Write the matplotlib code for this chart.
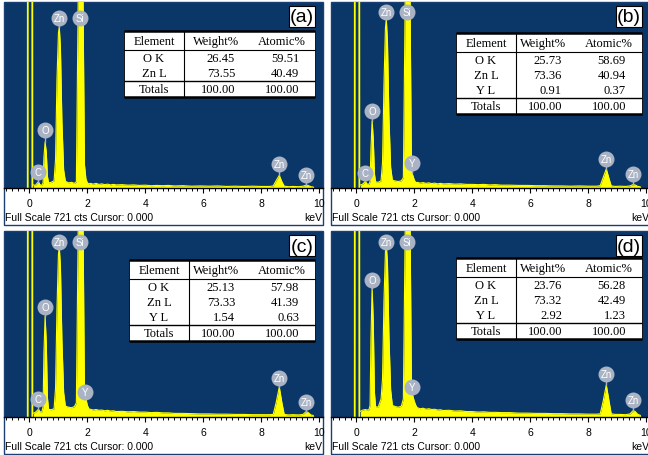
import matplotlib
matplotlib.use("Agg")
import matplotlib.pyplot as plt
from matplotlib.patches import Rectangle
from matplotlib.ticker import MultipleLocator

W, H = 648, 456
BLUE = "#0b3768"
YELLOW = "#ffff00"
BADGE = "#a9b3c4"
EDGE = "#1c3f73"
FULL_SCALE = 721

# energy grid (keV) shared by the four spectra
kev = [0.14, 0.2, 0.26, 0.31, 0.36, 0.43, 0.47, 0.5, 0.54, 0.58,
       0.62, 0.66, 0.75, 0.85, 0.9, 0.95, 1.0, 1.03, 1.07, 1.12,
       1.18, 1.24, 1.35, 1.45, 1.55, 1.62, 1.68, 1.74, 1.8, 1.86,
       1.9, 1.95, 2.0, 2.05, 2.1, 2.2, 2.3, 2.4, 2.5, 2.6,
       2.7, 2.8, 2.9, 3.0, 3.2, 3.4, 3.6, 3.8, 4.0, 4.2,
       4.4, 4.6, 4.8, 5.0, 5.3, 5.6, 5.9, 6.2, 6.5, 6.8,
       7.1, 7.4, 7.7, 8.0, 8.3, 8.42, 8.52, 8.63, 8.72, 8.8,
       8.95, 9.1, 9.3, 9.45, 9.55, 9.62, 9.72, 9.8, 9.82]

cts_a = [12, 10, 18, 24, 13, 10, 20, 120, 178, 140,
         45, 20, 22, 28, 110, 420, 600, 625, 540, 260,
         70, 26, 20, 22, 18, 24, 700, 1500, 1500, 600,
         90, 35, 20, 16, 18, 15, 18, 14, 16, 13,
         15, 12, 14, 12, 13, 11, 12, 10, 11, 9,
         10, 9, 10, 8, 9, 7, 8, 7, 8, 6,
         7, 6, 7, 6, 6, 8, 28, 49, 24, 7,
         5, 6, 5, 7, 11, 10, 5, 4, 0]

cts_b = [12, 14, 20, 26, 16, 14, 25, 150, 260, 190,
         55, 24, 22, 28, 100, 400, 620, 655, 570, 280,
         80, 30, 27, 25, 28, 40, 700, 1500, 1500, 600,
         60, 48, 30, 21, 22, 19, 21, 18, 20, 17,
         19, 16, 18, 16, 17, 15, 16, 14, 14, 13,
         14, 12, 13, 11, 11, 10, 10, 9, 9, 8,
         8, 7, 8, 7, 7, 9, 40, 74, 38, 8,
         6, 7, 6, 8, 13, 12, 6, 5, 0]

cts_c = [15, 18, 24, 30, 20, 20, 40, 250, 390, 290,
         75, 30, 28, 32, 110, 420, 630, 660, 580, 300,
         95, 42, 38, 36, 40, 55, 700, 1500, 1500, 620,
         90, 70, 45, 32, 30, 27, 29, 26, 27, 24,
         26, 23, 24, 21, 22, 20, 21, 19, 19, 17,
         18, 16, 16, 14, 14, 13, 12, 12, 11, 11,
         10, 10, 9, 9, 9, 10, 55, 116, 55, 10,
         8, 9, 8, 10, 20, 18, 8, 6, 0]

cts_d = [22, 26, 28, 29, 27, 28, 45, 300, 500, 370,
         95, 40, 38, 70, 150, 450, 640, 665, 600, 320,
         105, 45, 40, 38, 42, 70, 700, 1500, 1500, 640,
         110, 80, 60, 45, 36, 32, 34, 30, 32, 29,
         30, 27, 28, 25, 26, 23, 24, 21, 21, 19,
         20, 18, 18, 17, 17, 15, 15, 14, 14, 13,
         13, 12, 12, 11, 11, 12, 60, 124, 65, 12,
         10, 10, 9, 12, 24, 22, 10, 7, 0]

# noise spike at zero energy (off scale)
spike_kev = [-0.06, -0.05, 0.09, 0.10]
spike_cts = [0, 3000, 3000, 0]

# peak badges: element, keV, badge height (cts), peak top (cts)
peaks_a = [("C", 0.28, 62, 24), ("O", 0.53, 225, 178), ("Zn", 1.02, 659, 625),
           ("Si", 1.74, 659, 721), ("Zn", 8.63, 93, 49), ("Zn", 9.55, 50, 11)]
peaks_b = [("C", 0.28, 58, 26), ("O", 0.53, 298, 260), ("Zn", 1.02, 682, 655),
           ("Si", 1.74, 682, 721), ("Y", 1.92, 97, 60), ("Zn", 8.63, 112, 74),
           ("Zn", 9.55, 54, 13)]
peaks_c = [("C", 0.28, 70, 30), ("O", 0.53, 426, 390), ("Zn", 1.02, 678, 660),
           ("Si", 1.74, 678, 721), ("Y", 1.92, 97, 90), ("Zn", 8.63, 151, 116),
           ("Zn", 9.55, 58, 20)]
peaks_d = [("O", 0.53, 531, 500), ("Zn", 1.02, 678, 665), ("Si", 1.74, 678, 721),
           ("Y", 1.92, 116, 110), ("Zn", 8.63, 167, 124), ("Zn", 9.55, 66, 24)]

# quantification tables
rows_a = [("O K", "26.45", "59.51"), ("Zn L", "73.55", "40.49")]
rows_b = [("O K", "25.73", "58.69"), ("Zn L", "73.36", "40.94"), ("Y L", "0.91", "0.37")]
rows_c = [("O K", "25.13", "57.98"), ("Zn L", "73.33", "41.39"), ("Y L", "1.54", "0.63")]
rows_d = [("O K", "23.76", "56.28"), ("Zn L", "73.32", "42.49"), ("Y L", "2.92", "1.23")]
totals = ("Totals", "100.00", "100.00")
header = ("Element", "Weight%", "Atomic%")

fig = plt.figure(figsize=(W / 100, H / 100), dpi=100)
fig.patch.set_facecolor("white")

PW, PH = 319, 186


def panel(ox, oy, cts, peaks, rows, tag, tab_left, tab_top):
    ax = fig.add_axes([ox / W, 1 - (oy + PH) / H, PW / W, PH / H])
    ax.set_facecolor(BLUE)

    def tr(x, y):
        return (x / PW, 1 - y / PH)

    kw = dict(transform=ax.transAxes, clip_on=False)

    ax.fill_between(kev, cts, color=YELLOW, lw=0, zorder=2)
    ax.plot(kev, cts, color=YELLOW, lw=0.8, zorder=2)
    ax.plot(spike_kev, spike_cts, color=YELLOW, lw=1.3, zorder=2)

    for name, x, yl, yp in peaks:
        if yp < yl:
            ax.plot([x, x], [yp, yl], color=BADGE, lw=1, zorder=3)
        ax.plot([x], [yl], "o", ms=11.5, color=BADGE, mec="none", zorder=4)
        ax.text(x, yl, name, color="white", fontsize=7, ha="center", va="center",
                family="Liberation Sans", zorder=5)

    ax.set_xlim(-0.88, 10.14)
    ax.set_ylim(0, FULL_SCALE)
    ax.set_yticks([])
    ax.set_xticks([0, 2, 4, 6, 8, 10])
    ax.xaxis.set_minor_locator(MultipleLocator(0.2))
    ax.tick_params(axis="x", which="major", direction="out", length=3.8, width=0.8,
                   pad=3.2, labelsize=7.5, colors="black")
    ax.tick_params(axis="x", which="minor", direction="out", length=2, width=0.7)
    for lab in ax.get_xticklabels():
        lab.set_family("Liberation Sans")
    for s in ("top", "left", "right"):
        ax.spines[s].set_visible(False)
    ax.spines["bottom"].set_linewidth(1)

    ax.text(*tr(1, 215), "Full Scale 721 cts Cursor: 0.000", fontsize=7.5,
            family="Liberation Sans", ha="left", va="center", **kw)
    ax.text(*tr(318, 215), "keV", fontsize=7.5, family="Liberation Sans",
            ha="right", va="center", **kw)

    y0 = tr(0, 223)[1]
    ax.add_patch(Rectangle((0, y0), 1, 1 - y0, fill=False, ec=EDGE, lw=1, zorder=1, **kw))

    # tag box
    x0, x1, t0, t1 = 285, 311, 4, 25
    ax.add_patch(Rectangle(tr(x0, t1), (x1 - x0) / PW, (t1 - t0) / PH, fc="white",
                           ec="black", lw=0.8, zorder=6, **kw))
    ax.text(*tr((x0 + x1) / 2, (t0 + t1) / 2 + 0.5), tag, fontsize=14,
            family="Liberation Sans", ha="center", va="center", zorder=7, **kw)

    # table
    n = len(rows)
    T = tab_top
    right = 311
    sep = tab_left + 60
    bottom = T + 19 + 15 * n + 17
    ax.add_patch(Rectangle(tr(tab_left, bottom), (right - tab_left) / PW,
                           (bottom - T) / PH, fc="white", ec="black", lw=0.6,
                           zorder=6, **kw))

    def hline(y, lw):
        ax.plot([tab_left / PW, right / PW], [tr(0, y)[1]] * 2, color="black",
                lw=lw, zorder=7, solid_capstyle="butt", **kw)

    hline(T, 1.8)
    hline(T + 19, 0.8)
    hline(T + 19 + 15 * n + 1, 1.0)
    hline(bottom, 1.8)
    ax.plot([sep / PW] * 2, [tr(0, T)[1], tr(0, bottom)[1]], color="black", lw=0.8,
            zorder=7, **kw)

    tk = dict(fontsize=9, family="Liberation Serif", va="center", zorder=8, **kw)
    ecx = (tab_left + sep) / 2
    ax.text(*tr(ecx, T + 10), header[0], ha="center", **tk)
    ax.text(*tr(212, T + 10), header[1], ha="center", **tk)
    ax.text(*tr(278, T + 10), header[2], ha="center", **tk)
    ys = [T + 27 + 15 * k for k in range(n)]
    for (el, wt, at), y in zip(rows, ys):
        ax.text(*tr(ecx, y), el, ha="center", **tk)
        ax.text(*tr(231, y), wt, ha="right", **tk)
        ax.text(*tr(295, y), at, ha="right", **tk)
    yt = T + 19 + 15 * n + 9
    ax.text(*tr(ecx, yt), totals[0], ha="center", **tk)
    ax.text(*tr(231, yt), totals[1], ha="right", **tk)
    ax.text(*tr(295, yt), totals[2], ha="right", **tk)
    return ax


panel(4, 3, cts_a, peaks_a, rows_a, "(a)", 120, 29)
panel(331, 3, cts_b, peaks_b, rows_b, "(b)", 125, 31)
panel(4, 232, cts_c, peaks_c, rows_c, "(c)", 125, 29)
panel(331, 232, cts_d, peaks_d, rows_d, "(d)", 125, 27)

fig.savefig("out.png", dpi=100)
